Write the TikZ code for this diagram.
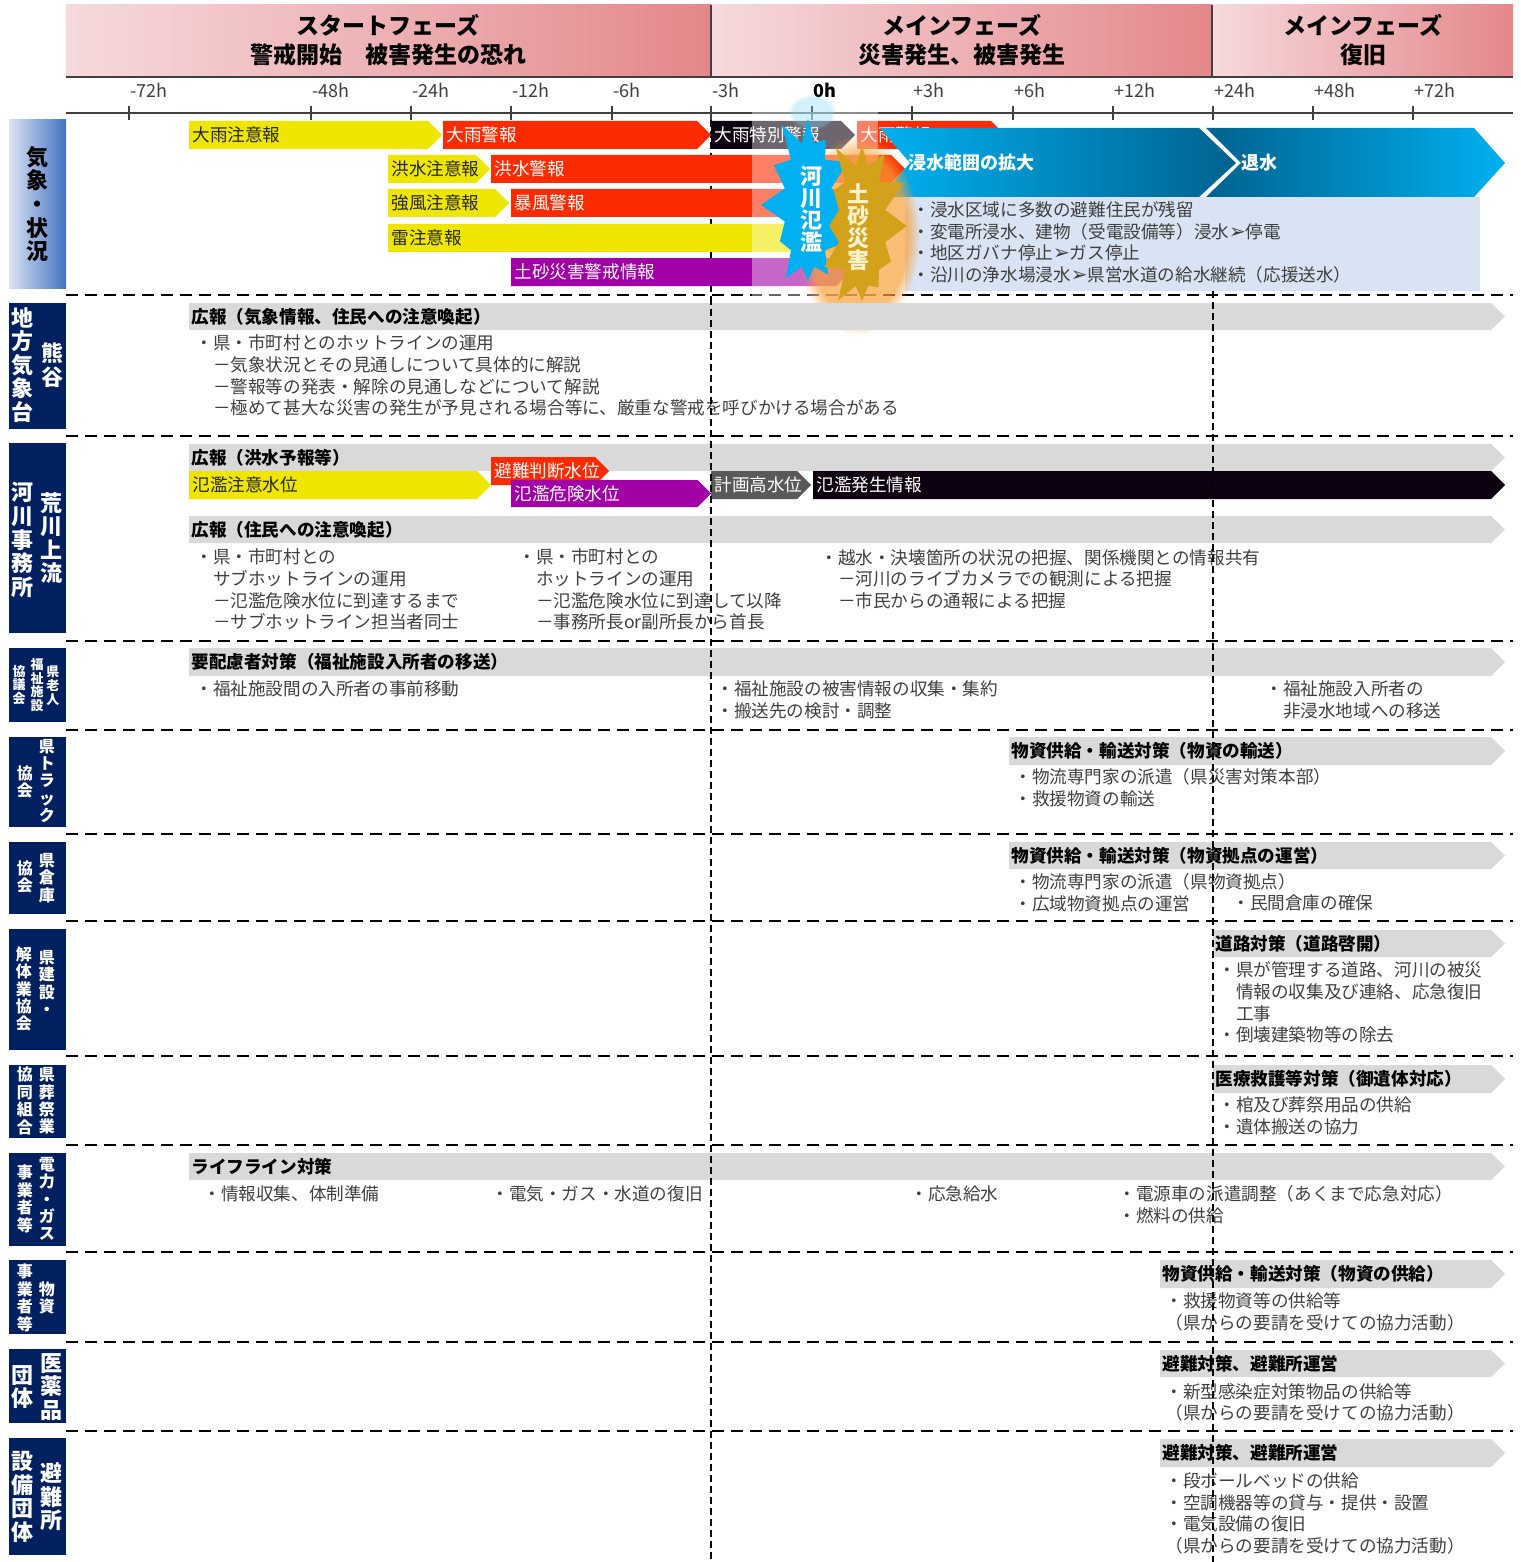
\documentclass[tikz,border=0pt]{standalone}
\usepackage{fontspec}
\setmainfont{Noto Sans CJK JP}
\newfontfamily\symfont{DejaVu Sans}
\usepackage{xcolor}
\usetikzlibrary{shapes.symbols, calc, fadings}

\definecolor{phaseL}{HTML}{F6DADD}
\definecolor{phaseR}{HTML}{E4878A}
\definecolor{axisGray}{HTML}{404040}
\definecolor{txtGray}{HTML}{3F3F3F}
\definecolor{txtDark}{HTML}{262626}
\definecolor{wYellow}{HTML}{EFE600}
\definecolor{wRed}{HTML}{FF2B00}
\definecolor{wPurple}{HTML}{A000A6}
\definecolor{wBlack}{HTML}{0D0010}
\definecolor{kGray}{HTML}{595959}
\definecolor{barGray}{HTML}{D9D9D9}
\definecolor{orgNavy}{HTML}{002060}
\definecolor{labL}{HTML}{DAE3F3}
\definecolor{labR}{HTML}{4472C4}
\definecolor{boxBlue}{HTML}{DAE3F3}
\definecolor{fCyan}{HTML}{00B0F0}
\definecolor{fTeal}{HTML}{00628F}
\definecolor{burstGold}{HTML}{D4A21A}
\definecolor{burstOrange}{HTML}{F7A13A}
\definecolor{cream}{HTML}{FFF2CC}

\newcommand{\bodysize}{\fontsize{8.8}{10.85}\selectfont}
\newcommand{\arr}{{\symfont\fontsize{10}{10}\selectfont\char"27A2}}

% coloured chevron: name, fill, text colour, x1, x2, top, bottom, label
\newcommand{\chev}[8]{%
  \fill[#2] (#4,#6) -- ({#5-(#7-#6)/2},#6) -- (#5,{(#6+#7)/2})
    -- ({#5-(#7-#6)/2},#7) -- (#4,#7) -- cycle;
  \node[barlabel, text=#3] (#1) at ({#4+3},{(#6+#7)/2}) {#8};
}
% grey heading bar running to the right edge: name, x1, top, bottom, title
\newcommand{\graybar}[5]{%
  \fill[barGray] (#2,#3) -- (1491,#3) -- (1505,{(#3+#4)/2})
    -- (1491,#4) -- (#2,#4) -- cycle;
  \node[bartitle] (#1) at ({#2+2},{(#3+#4)/2}) {#5};
}

\tikzset{
  % time axis
  axisline/.style={draw=axisGray, line width=0.8pt},
  ticklabel/.style={anchor=west, inner sep=0pt, text=txtGray,
    font=\fontsize{9}{10}\selectfont},
  % phase header
  phasetext/.style={align=center, inner sep=0pt, text=black,
    font=\fontsize{11.5}{14.5}\selectfont\bfseries},
  % grid
  rowsep/.style={line width=1pt, dash pattern=on 6pt off 3.5pt},
  colsep/.style={line width=0.8pt, dash pattern=on 3.5pt off 2pt},
  % texts
  barlabel/.style={anchor=west, inner sep=0pt, font=\bodysize},
  bartitle/.style={anchor=west, inner sep=0pt, text=black, font=\bodysize\bfseries},
  note/.style={anchor=west, inner sep=0pt, align=left, text=txtGray, font=\bodysize},
  floodlabel/.style={anchor=west, inner sep=0pt, text=white,
    font=\fontsize{9}{10}\selectfont\bfseries},
  % organisation labels (vertical)
  orgbig/.style={align=center, inner sep=0pt, text=white,
    font=\fontsize{11}{11.8}\selectfont\bfseries},
  orgmid/.style={align=center, inner sep=0pt, text=white,
    font=\fontsize{8}{8.7}\selectfont\bfseries},
  orgsmall/.style={align=center, inner sep=0pt, text=white,
    font=\fontsize{6.5}{6.9}\selectfont\bfseries},
  bursttext/.style={align=center, inner sep=0pt, text=white,
    font=\fontsize{11}{11}\selectfont\bfseries},
  burst/.style={starburst, draw=none, inner sep=0pt, starburst points=12,
    starburst point height=15pt},
  glow/.style={path fading=circle with fuzzy edge 20 percent}
}

\begin{document}
\begin{tikzpicture}[x=0.5pt, y=-0.5pt]
\useasboundingbox (0,0) rectangle (1520,1562);

%% === Phase header ===
\shade[left color=phaseL, right color=phaseR] (66,5) rectangle (711,77);
\shade[left color=phaseL, right color=phaseR] (711,5) rectangle (1212,77);
\shade[left color=phaseL, right color=phaseR] (1212,5) rectangle (1513,77);
\draw[axisline] (711,5) -- (711,77) (1212,5) -- (1212,77);
\draw[axisline, line width=1.2pt] (66,77) -- (1513,77);
\node[phasetext] (ph-start) at (388,40) {スタートフェーズ\\警戒開始　被害発生の恐れ};
\node[phasetext] (ph-main) at (962,40) {メインフェーズ\\災害発生、被害発生};
\node[phasetext] (ph-rec) at (1363,40) {メインフェーズ\\復旧};

%% === Time axis ===
\draw[axisline] (66,113) -- (1513,113);
\foreach \x/\t in {129/-72h, 311/-48h, 411/-24h, 511/-12h, 612/-6h, 711/-3h,
                   912/+3h, 1013/+6h, 1113/+12h, 1213/+24h, 1313/+48h, 1413/+72h} {
  \draw[axisline] (\x,106) -- (\x,120);
  \node[ticklabel] (tick\x) at (\x+1,90) {\t};
}
\draw[axisline] (812,106) -- (812,120);
\node[ticklabel, text=black, font=\fontsize{9}{10}\selectfont\bfseries] (tick812) at (813,90) {0h};

%% === Grid ===
\foreach \y in {295,436,641,730,834,921,1056,1145,1252,1342,1431}
  \draw[rowsep] (66,\y) -- (1513,\y);
\draw[colsep] (711,120) -- (711,298);

%% === Weather warnings ===
\chev{w-ame1}{wYellow}{txtDark}{189}{442}{121}{149}{大雨注意報}
\chev{w-ame2}{wRed}{white}{443}{711}{121}{149}{大雨警報}
\chev{w-ame3}{wBlack}{white}{711}{855}{121}{149}{大雨特別警報}
\chev{w-ame4}{wRed}{white}{857}{1005}{121}{149}{大雨警報}
\chev{w-kozui1}{wYellow}{txtDark}{388}{490}{155}{183}{洪水注意報}
\chev{w-kozui2}{wRed}{white}{491}{905}{155}{183}{洪水警報}
\chev{w-kaze1}{wYellow}{txtDark}{388}{509}{189}{217}{強風注意報}
\chev{w-kaze2}{wRed}{white}{511}{860}{189}{217}{暴風警報}
\chev{w-kaminari}{wYellow}{txtDark}{388}{850}{224}{252}{雷注意報}
\chev{w-dosha}{wPurple}{white}{511}{850}{258}{286}{土砂災害警戒情報}

% flooding arrows and situation box
\shade[left color=fCyan, right color=fTeal]
  (880,128) -- (1199,128) -- (1236,163) -- (1199,197) -- (880,197) -- (910,163) -- cycle;
\node[floodlabel] (f-expand) at (908,163) {浸水範囲の拡大};
\shade[left color=fTeal, right color=fCyan]
  (1206,128) -- (1474,128) -- (1505,163) -- (1474,197) -- (1206,197) -- (1241,163) -- cycle;
\node[floodlabel] (f-recede) at (1241,163) {退水};
\fill[boxBlue] (905,197) rectangle (1480,291);
\node[note] (f-notes) at (912,242.5) {・浸水区域に多数の避難住民が残留\\
  ・変電所浸水、建物（受電設備等）浸水\arr 停電\\
  ・地区ガバナ停止\arr ガス停止\\
  ・沿川の浄水場浸水\arr 県営水道の給水継続（応援送水）};

% river flood / landslide bursts
\fill[white, opacity=0.4] (752,112) rectangle (878,302);
\fill[fCyan!50, glow, opacity=0.35] (812,112) ellipse [x radius=24, y radius=18];
\fill[burstOrange, glow, opacity=0.7] (858,235) ellipse [x radius=62, y radius=100];
\node[burst, fill=fCyan, minimum width=54pt, minimum height=94pt, random starburst=11]
  (b-river) at (808,205) {};
\node[bursttext] (b-river-t) at (811,209) {河\\川\\氾\\濫};
\node[burst, fill=burstGold, minimum width=54pt, minimum height=92pt, random starburst=5]
  (b-slide) at (862,226) {};
\node[bursttext, text=cream] (b-slide-t) at (858,227) {土\\砂\\災\\害};

%% === Organisation labels ===
\shade[left color=labL, middle color=labL!70!labR, right color=labR] (9,120) rectangle (66,288);
\node[orgbig, text=black] (o-kisho) at (37,204) {気\\象\\・\\状\\況};

\foreach \a/\b in {303/429, 443/633, 648/722, 737/827, 842/914, 929/1050,
                   1065/1138, 1153/1246, 1260/1334, 1349/1423, 1438/1555}
  \fill[orgNavy] (9,\a) rectangle (66,\b);

\node[orgbig] (o-jma1) at (22,365) {地\\方\\気\\象\\台};
\node[orgbig] (o-jma2) at (52,365) {熊\\谷};
\node[orgbig] (o-river1) at (22,540) {河\\川\\事\\務\\所};
\node[orgbig] (o-river2) at (51,538) {荒\\川\\上\\流};
\node[orgsmall] (o-welf1) at (53,686) {県\\老\\人};
\node[orgsmall] (o-welf2) at (37,685) {福\\祉\\施\\設};
\node[orgsmall] (o-welf3) at (19,685) {協\\議\\会};
\node[orgmid] (o-truck1) at (47,781) {県\\ト\\ラ\\ッ\\ク};
\node[orgmid] (o-truck2) at (25,782) {協\\会};
\node[orgmid] (o-depot1) at (47,878) {県\\倉\\庫};
\node[orgmid] (o-depot2) at (25,877) {協\\会};
\node[orgmid] (o-build1) at (47,983) {県\\建\\設\\・};
\node[orgmid] (o-build2) at (24,989) {解\\体\\業\\協\\会};
\node[orgmid] (o-funer1) at (47,1101) {県\\葬\\祭\\業};
\node[orgmid] (o-funer2) at (25,1101) {協\\同\\組\\合};
\node[orgmid] (o-power1) at (47,1199) {電\\力\\・\\ガ\\ス};
\node[orgmid] (o-power2) at (25,1199) {事\\業\\者\\等};
\node[orgmid] (o-goods1) at (25,1298) {事\\業\\者\\等};
\node[orgmid] (o-goods2) at (47,1298) {物\\資};
\node[orgbig] (o-med1) at (51,1387) {医\\薬\\品};
\node[orgbig] (o-med2) at (22,1387) {団\\体};
\node[orgbig] (o-shel1) at (51,1497) {避\\難\\所};
\node[orgbig] (o-shel2) at (22,1497) {設\\備\\団\\体};

%% === Meteorological office ===
\graybar{kisho-pr}{189}{303}{330}{広報（気象情報、住民への注意喚起）}
\node[note] (kisho-n) at (195,375.5) {・県・市町村とのホットラインの運用\\
  　－気象状況とその見通しについて具体的に解説\\
  　－警報等の発表・解除の見通しなどについて解説\\
  　－極めて甚大な災害の発生が予見される場合等に、厳重な警戒を呼びかける場合がある};

%% === River office ===
\graybar{kasen-pr1}{189}{444}{471}{広報（洪水予報等）}
\chev{k-hinan}{wRed}{white}{491}{609}{457}{485}{避難判断水位}
\chev{k-chui}{wYellow}{txtDark}{189}{491}{471}{499}{氾濫注意水位}
\chev{k-kiken}{wPurple}{white}{511}{711}{480}{507}{氾濫危険水位}
\chev{k-keikaku}{kGray}{white}{711}{811}{471}{499}{計画高水位}
\chev{k-hassei}{wBlack}{white}{813}{1505}{471}{499}{氾濫発生情報}
\graybar{kasen-pr2}{189}{516}{543}{広報（住民への注意喚起）}
\node[note] (kasen-n1) at (195,589.5) {・県・市町村との\\　サブホットラインの運用\\
  　－氾濫危険水位に到達するまで\\　－サブホットライン担当者同士};
\node[note] (kasen-n2) at (518,589.5) {・県・市町村との\\　ホットラインの運用\\
  　－氾濫危険水位に到達して以降\\　－事務所長or副所長から首長};
\node[note] (kasen-n3) at (820,579) {・越水・決壊箇所の状況の把握、関係機関との情報共有\\
  　－河川のライブカメラでの観測による把握\\　－市民からの通報による把握};

%% === Welfare facilities ===
\graybar{fukushi-pr}{189}{648}{676}{要配慮者対策（福祉施設入所者の移送）}
\node[note] (fukushi-n1) at (195,689) {・福祉施設間の入所者の事前移動};
\node[note] (fukushi-n2) at (716,700) {・福祉施設の被害情報の収集・集約\\・搬送先の検討・調整};
\node[note] (fukushi-n3) at (1265,700) {・福祉施設入所者の\\　非浸水地域への移送};

%% === Trucking / warehouses ===
\graybar{truck-pr}{1009}{737}{765}{物資供給・輸送対策（物資の輸送）}
\node[note] (truck-n) at (1014,787.5) {・物流専門家の派遣（県災害対策本部）\\・救援物資の輸送};
\graybar{soko-pr}{1009}{842}{869}{物資供給・輸送対策（物資拠点の運営）}
\node[note] (soko-n1) at (1014,892.5) {・物流専門家の派遣（県物資拠点）\\・広域物資拠点の運営};
\node[note] (soko-n2) at (1232,903) {・民間倉庫の確保};

%% === Construction ===
\graybar{doro-pr}{1213}{930}{957}{道路対策（道路啓開）}
\node[note] (doro-n) at (1218,1002.5) {・県が管理する道路、河川の被災\\
  　情報の収集及び連絡、応急復旧\\　工事\\・倒壊建築物等の除去};

%% === Funeral ===
\graybar{sosai-pr}{1213}{1065}{1093}{医療救護等対策（御遺体対応）}
\node[note] (sosai-n) at (1218,1116) {・棺及び葬祭用品の供給\\・遺体搬送の協力};

%% === Lifelines ===
\graybar{life-pr}{189}{1153}{1180}{ライフライン対策}
\node[note] (life-n1) at (203,1194) {・情報収集、体制準備};
\node[note] (life-n2) at (491,1194) {・電気・ガス・水道の復旧};
\node[note] (life-n3) at (910,1194) {・応急給水};
\node[note] (life-n4) at (1118,1204.5) {・電源車の派遣調整（あくまで応急対応）\\・燃料の供給};

%% === Supplies / medicine / shelters ===
\graybar{busshi-pr}{1160}{1260}{1288}{物資供給・輸送対策（物資の供給）}
\node[note] (busshi-n) at (1165,1312) {・救援物資等の供給等\\（県からの要請を受けての協力活動）};
\graybar{iyaku-pr}{1160}{1350}{1377}{避難対策、避難所運営}
\node[note] (iyaku-n) at (1165,1402.5) {・新型感染症対策物品の供給等\\（県からの要請を受けての協力活動）};
\graybar{setsubi-pr}{1160}{1439}{1467}{避難対策、避難所運営}
\node[note] (setsubi-n) at (1165,1513.5) {・段ボールベッドの供給\\・空調機器等の貸与・提供・設置\\
  ・電気設備の復旧\\（県からの要請を受けての協力活動）};

%% === Phase boundaries ===
\draw[colsep] (711,298) -- (711,1562);
\draw[colsep] (1213,291) -- (1213,1562);

\end{tikzpicture}
\end{document}
